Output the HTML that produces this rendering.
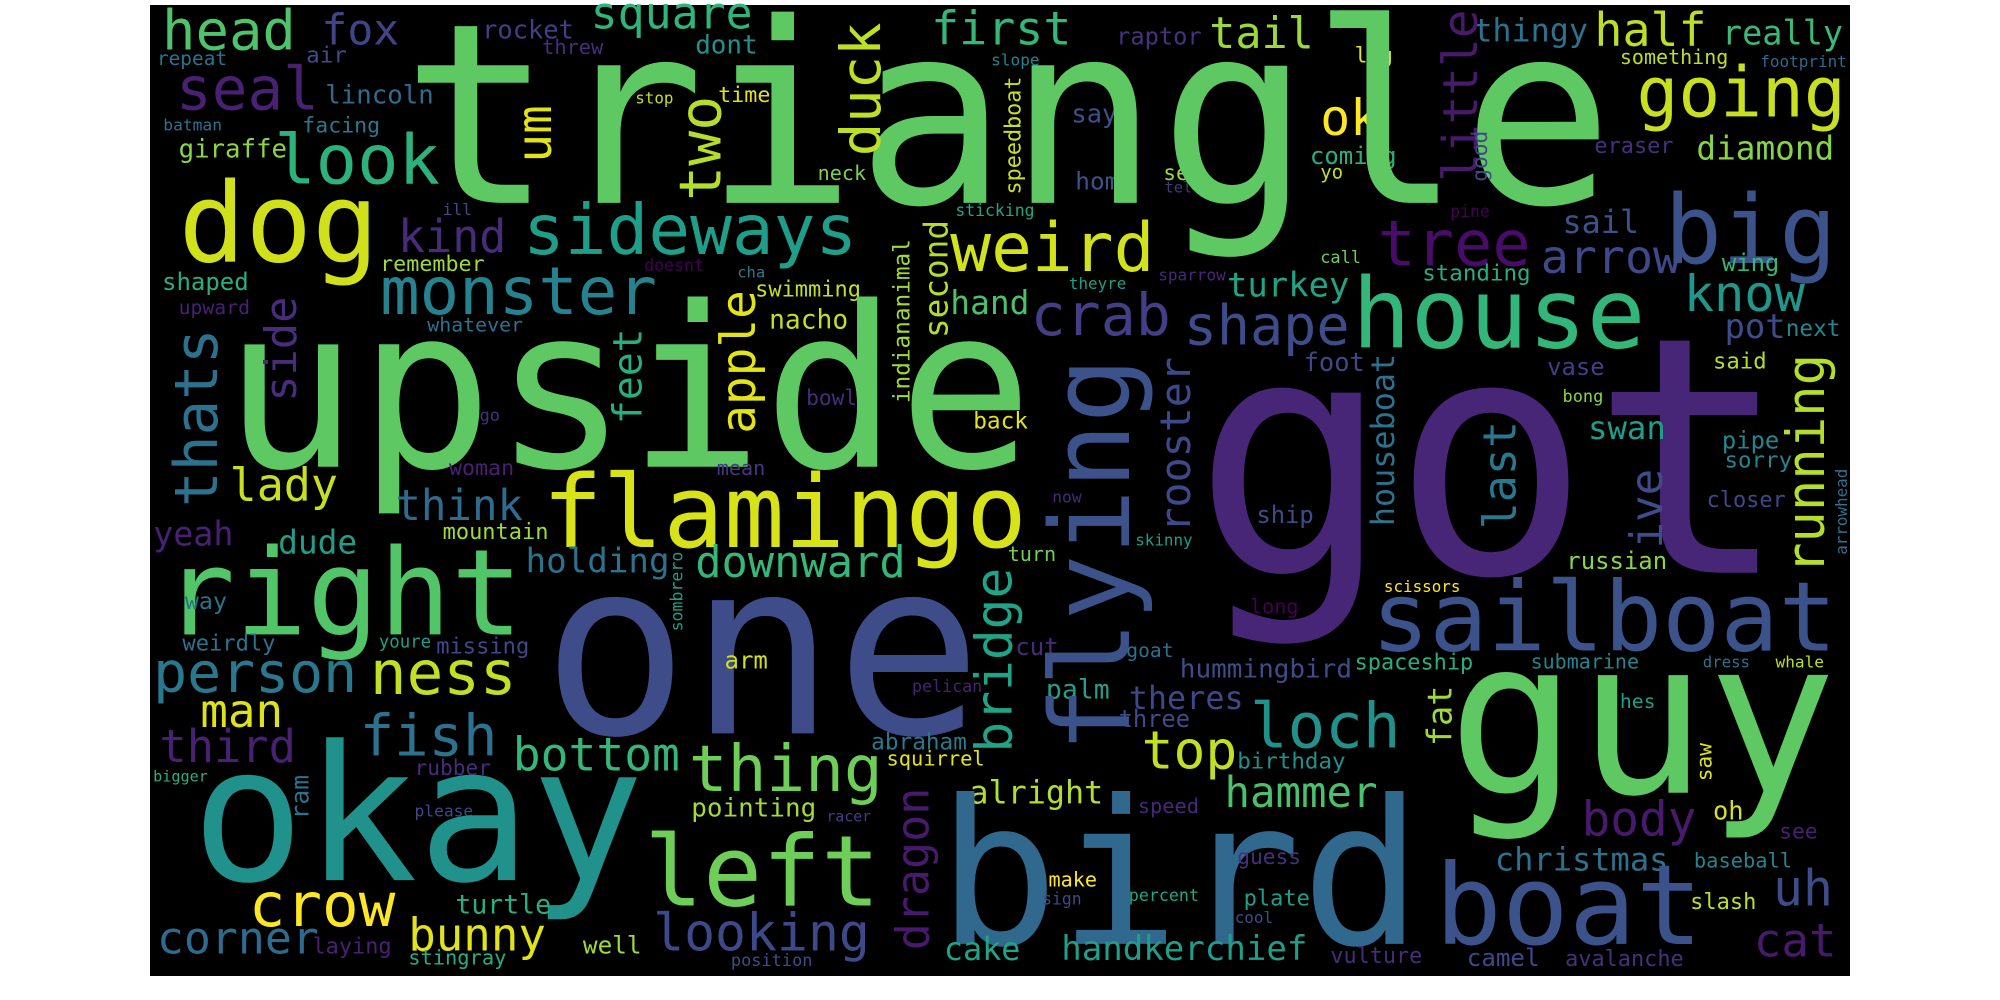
<!DOCTYPE html>
<html>
<head>
<meta charset="utf-8">
<style>
  html, body { margin: 0; padding: 0; background: #ffffff; }
  svg { display: block; }
  text { font-family: "DejaVu Sans Mono", "Liberation Mono", monospace; }
</style>
</head>
<body>
<svg id="cloud" width="2000" height="1000" viewBox="0 0 2000 1000" xmlns="http://www.w3.org/2000/svg">
  <rect x="150" y="5" width="1700" height="971" fill="#000000"/>
  <g id="words"></g>
</svg>
<script>
// Word cloud layout (sample space 1568 x 1568)
const SX = 2000 / 1568;
const SY = 1000 / 1568;

// horizontal words: text, left x, right x, baseline y, color
const hWords = [
["head",127,232,78,"#4ec36b"],["fox",252,313,70,"#414487"],["rocket",378,450,60,"#433e85"],
["square",463,590,45,"#2fb47c"],["repeat",123,178,102,"#2c728e"],["air",240,272,98,"#3e4c8a"],
["threw",425,473,85,"#472d7b"],["dont",545,594,84,"#21918c"],["first",730,840,70,"#35b779"],
["raptor",875,942,70,"#46327e"],["tail",948,1030,75,"#9dd93b"],["thingy",1155,1245,65,"#2c728e"],
["half",1250,1338,72,"#bddf26"],["really",1350,1445,70,"#3aba76"],["leg",1062,1092,98,"#e2e418"],
["something",1270,1355,100,"#bddf26"],["footprint",1380,1448,105,"#31688e"],["seal",138,250,172,"#482173"],
["lincoln",255,340,162,"#2f6b8e"],["stop",498,528,162,"#c2df23"],["time",563,604,160,"#dde318"],
["slope",777,815,103,"#25848e"],["batman",128,174,205,"#2c728e"],["facing",237,298,208,"#2a788e"],
["say",840,876,192,"#3b528b"],["ok",1035,1082,212,"#fde725"],["giraffe",140,225,247,"#8bd646"],
["look",215,345,288,"#2db27d"],["neck",641,679,282,"#7ad151"],["home",843,889,297,"#3b528b"],
["sea",912,942,282,"#a2da37"],["tell",913,942,302,"#453882"],["coming",1027,1095,257,"#29af7f"],
["yo",1035,1053,280,"#c2df23"],["eraser",1250,1312,240,"#46307e"],["diamond",1330,1438,250,"#86d549"],
["going",1283,1447,183,"#c8e020"],["ill",347,370,337,"#3e4989"],["sticking",749,811,339,"#21a685"],
["pine",1137,1168,340,"#440154"],["dog",140,297,410,"#d0e11c"],["kind",312,397,395,"#472c7a"],
["sideways",410,672,398,"#1f9e89"],["weird",745,905,425,"#d2e21b"],["tree",1080,1200,416,"#4a0c6b"],
["sail",1225,1285,365,"#3b528b"],["arrow",1208,1318,428,"#3e4989"],["big",1305,1440,412,"#3b528b"],
["wing",1350,1395,425,"#35b779"],["call",1035,1067,412,"#6ece58"],["standing",1115,1200,440,"#29af7f"],
["remember",298,380,425,"#a0da39"],["doesnt",505,552,425,"#440154"],["cha",578,600,435,"#2a788e"],
["shaped",127,195,455,"#29af7f"],["monster",298,515,492,"#26828e"],["swimming",592,675,465,"#c2df23"],
["upward",140,196,492,"#482173"],["hand",745,807,492,"#4ac16d"],["theyre",838,883,453,"#1f9e89"],
["sparrow",908,961,440,"#482878"],["turkey",962,1058,465,"#20a486"],["house",1060,1290,545,"#32b67a"],
["know",1320,1415,488,"#1f988b"],["whatever",335,410,520,"#2c728e"],["nacho",603,665,515,"#c2df23"],
["crab",808,918,525,"#433e85"],["shape",928,1058,540,"#3e4c8a"],["pot",1352,1400,530,"#3e4c8a"],
["next",1400,1443,527,"#25858e"],["foot",1022,1070,582,"#3e4989"],["vase",1213,1258,588,"#433e85"],
["said",1343,1385,578,"#b5de2b"],["bong",1225,1257,630,"#86d549"],["bowl",632,672,635,"#472d7b"],
["upside",175,810,732,"#5ec962"],["got",935,1403,898,"#482677"],["go",376,392,660,"#46307e"],
["back",763,806,672,"#e2e418"],["swan",1245,1306,688,"#1f9e89"],["pipe",1350,1395,703,"#25858e"],
["sorry",1352,1405,733,"#25858e"],["woman",352,403,745,"#482173"],["mean",562,600,745,"#453882"],
["lady",180,265,785,"#c8e020"],["closer",1338,1400,795,"#3e4989"],["now",825,848,788,"#482878"],
["think",310,410,815,"#2f6b8e"],["flamingo",425,805,858,"#d8e219"],["ship",985,1030,820,"#3e4c8a"],
["yeah",120,183,855,"#482173"],["dude",218,280,868,"#1f9e89"],["mountain",347,430,845,"#a0da39"],
["skinny",890,935,855,"#1f9e89"],["holding",412,525,898,"#2c728e"],["downward",545,710,905,"#35b779"],
["turn",790,828,880,"#6ece58"],["russian",1228,1307,892,"#8bd646"],["right",128,410,995,"#52c569"],
["one",425,770,1150,"#3e4c8a"],["way",145,178,955,"#2c728e"],["scissors",1085,1145,928,"#fde725"],
["long",980,1018,962,"#440154"],["sailboat",1075,1440,1020,"#3b528b"],["weirdly",143,216,1020,"#2c728e"],
["youre",297,338,1015,"#1f9e89"],["missing",342,415,1025,"#3e4989"],["arm",568,602,1048,"#d0e11c"],
["cut",796,830,1027,"#472d7b"],["goat",883,920,1030,"#2c728e"],["person",120,280,1085,"#2a788e"],
["ness",290,405,1088,"#c2df23"],["hummingbird",925,1060,1062,"#3e4c8a"],["spaceship",1062,1155,1050,"#29af7f"],
["submarine",1200,1285,1048,"#25848e"],["dress",1335,1372,1047,"#2c728e"],["whale",1392,1430,1047,"#bddf26"],
["pelican",715,770,1085,"#482173"],["palm",820,870,1095,"#2a9d8a"],["man",157,222,1140,"#dde318"],
["theres",885,975,1112,"#3e4989"],["three",877,933,1140,"#3e4c8a"],["hes",1270,1298,1110,"#1f9e89"],
["loch",980,1098,1172,"#21918c"],["fish",282,390,1185,"#2c728e"],["third",125,232,1195,"#482173"],
["abraham",683,758,1175,"#2a788e"],["bottom",402,533,1208,"#35b779"],["guy",1135,1440,1243,"#5ec962"],
["squirrel",695,772,1200,"#e2e418"],["top",895,970,1205,"#c2df23"],["birthday",970,1055,1205,"#21918c"],
["bigger",120,163,1225,"#29af7f"],["rubber",325,385,1215,"#472d7b"],["thing",540,692,1240,"#6ece58"],
["alright",760,865,1260,"#b5de2b"],["hammer",960,1080,1265,"#4ac16d"],["please",325,371,1280,"#3e4989"],
["pointing",542,640,1280,"#a2da37"],["racer",648,683,1288,"#433e85"],["speed",892,940,1275,"#482878"],
["body",1240,1330,1310,"#481a6c"],["oh",1343,1367,1285,"#d8e219"],["see",1395,1425,1315,"#482173"],
["okay",150,505,1380,"#21918c"],["left",505,690,1420,"#6ece58"],["bird",735,1115,1480,"#31688e"],
["christmas",1172,1308,1365,"#2c728e"],["guess",970,1020,1355,"#46307e"],["baseball",1328,1405,1360,"#25848e"],
["make",822,860,1390,"#fde725"],["sign",817,848,1418,"#3e4989"],["percent",885,940,1413,"#21a685"],
["plate",975,1027,1420,"#1f9e89"],["slash",1325,1377,1425,"#bddf26"],["uh",1390,1437,1420,"#3e4c8a"],
["boat",1125,1335,1480,"#3b528b"],["cool",968,998,1447,"#3e4c8a"],["crow",195,310,1452,"#fde725"],
["turtle",357,432,1432,"#29af7f"],["corner",123,250,1495,"#2f6b8e"],["laying",245,307,1495,"#482173"],
["bunny",320,428,1490,"#e2e418"],["well",457,503,1495,"#a0da39"],["looking",512,682,1490,"#3e4989"],
["cake",740,800,1505,"#20a486"],["handkerchief",832,1025,1505,"#1f9e89"],["vulture",1043,1115,1510,"#472d7b"],
["camel",1150,1207,1515,"#3e4989"],["avalanche",1227,1320,1515,"#46307e"],["cat",1375,1440,1500,"#481a6c"],
["stingray",320,397,1512,"#29af7f"],["position",573,637,1515,"#3e4c8a"],
["triangle",315,1265,318,"#5ec962"]
];

// vertical words (read bottom-to-top): text, baseline x, top y, bottom y, color
const vWords = [
["two",565,150,315,"#b5de2b"],["duck",690,35,245,"#bddf26"],["um",432,165,255,"#e2e418"],
["speedboat",800,120,305,"#c8e020"],["little",1158,15,285,"#481a6c"],["good",1166,205,285,"#3e4989"],
["thats",170,515,795,"#2c728e"],["side",232,465,630,"#472d7b"],["feet",503,515,665,"#29af7f"],
["apple",592,455,680,"#e2e418"],["indiananimal",713,375,632,"#a0da39"],["second",743,345,530,"#b5de2b"],
["flying",885,560,1180,"#3b528b"],["rooster",933,560,835,"#3e4989"],["bridge",793,890,1180,"#20a486"],
["houseboat",1093,555,825,"#2c728e"],["last",1188,660,830,"#2a788e"],["ive",1303,735,860,"#3e4c8a"],
["running",1430,555,900,"#b5de2b"],["arrowhead",1448,735,870,"#2c728e"],["sombrero",535,865,990,"#1f9e89"],
["fat",1138,1075,1170,"#a0da39"],["saw",1342,1165,1225,"#dde318"],["ram",242,1215,1285,"#2c728e"],
["dragon",728,1235,1490,"#481a6c"]
];

const NS = "http://www.w3.org/2000/svg";
const layer = document.getElementById("words");
const ADV = 0.602;

hWords.forEach(function (w) {
  const text = w[0];
  const x = w[1] * SX;
  const width = (w[2] - w[1]) * SX;
  const y = w[3] * SY;
  const size = width / (ADV * text.length);
  const el = document.createElementNS(NS, "text");
  el.setAttribute("x", x.toFixed(1));
  el.setAttribute("y", y.toFixed(1));
  el.setAttribute("font-size", size.toFixed(1));
  el.setAttribute("textLength", width.toFixed(1));
  el.setAttribute("lengthAdjust", "spacingAndGlyphs");
  el.setAttribute("fill", w[4]);
  
  
  el.textContent = text;
  layer.appendChild(el);
});

vWords.forEach(function (w) {
  const text = w[0];
  const bx = w[1] * SX;
  const len = (w[3] - w[2]) * SY;
  const by = w[3] * SY;
  const size = len / (ADV * text.length);
  const el = document.createElementNS(NS, "text");
  el.setAttribute("x", "0");
  el.setAttribute("y", "0");
  el.setAttribute("transform", "translate(" + bx.toFixed(1) + "," + by.toFixed(1) + ") rotate(-90)");
  el.setAttribute("font-size", size.toFixed(1));
  el.setAttribute("textLength", len.toFixed(1));
  el.setAttribute("lengthAdjust", "spacingAndGlyphs");
  el.setAttribute("fill", w[4]);
  
  
  el.textContent = text;
  layer.appendChild(el);
});
</script>
</body>
</html>
